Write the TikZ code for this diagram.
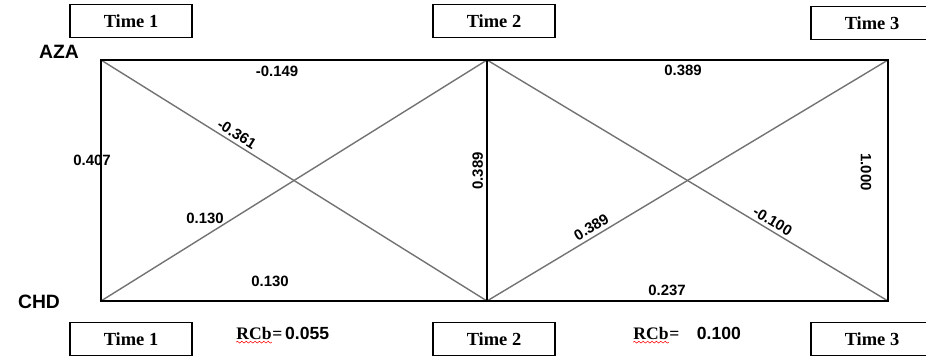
\documentclass[tikz,border=0pt]{standalone}
\usepackage{fontspec}
\setmainfont{Liberation Serif}
\newfontfamily\numfont{Liberation Sans}
\usetikzlibrary{positioning,decorations.pathmorphing}

\begin{document}
\begin{tikzpicture}[x=0.02cm,y=-0.02cm,
		timebox/.style={draw,line width=0.8pt,minimum width=2.44cm,minimum height=0.66cm,inner sep=0pt,font=\bfseries\fontsize{10.5}{12}\selectfont},
		val/.style={font=\numfont\bfseries\fontsize{8.5}{10}\selectfont,inner sep=1pt},
		var/.style={font=\numfont\bfseries\fontsize{11}{13}\selectfont,inner sep=1pt},
		cross/.style={draw=black!55,line width=0.8pt},
		side/.style={draw=black,line width=1pt}]
		\useasboundingbox (0,0) rectangle (926,358);
		% corners
		\coordinate (aza1) at (101,60);
		\coordinate (aza2) at (487,60);
		\coordinate (aza3) at (888,60);
		\coordinate (chd1) at (101,301);
		\coordinate (chd2) at (487,301);
		\coordinate (chd3) at (888,301);
		% cross paths
		\draw[cross] (aza1) -- (chd2);
		\draw[cross] (chd1) -- (aza2);
		\draw[cross] (aza2) -- (chd3);
		\draw[cross] (chd2) -- (aza3);
		\draw[side] (aza1) -- (aza3) -- (chd3) -- (chd1) -- cycle;
		\draw[side] (aza2) -- (chd2);
		% variables
		\node[var] (aza) at (59,52) {AZA};
		\node[var] (chd) at (39,302) {CHD};
		% time boxes
		\node[timebox] (t1top) at (131,21) {Time 1};
		\node[timebox] (t2top) at (494,21) {Time 2};
		\node[timebox] (t3top) at (872,23) {Time 3};
		\node[timebox] (t1bot) at (131,339) {Time 1};
		\node[timebox] (t2bot) at (494,339) {Time 2};
		\node[timebox] (t3bot) at (872,339) {Time 3};
		% coefficients
		\node[val] (s12a) at (277,71) {-0.149};
		\node[val] (s23a) at (683,70) {0.389};
		\node[val] (s12c) at (270,281) {0.130};
		\node[val] (s23c) at (667,290) {0.237};
		\node[val] (a1) at (92,160) {0.407};
		\node[val,rotate=90,anchor=south,inner sep=2pt] (a2) at (487,171) {0.389};
		\node[val,rotate=-90] (a3) at (866,172) {1.000};
		\node[val,rotate=-32,anchor=south,inner sep=2pt] (x1) at (232,142) {-0.361};
		\node[val] (x2) at (205,218) {0.130};
		\node[val,rotate=31,anchor=south,inner sep=2pt] (x3) at (596,235) {0.389};
		\node[val,rotate=-31,anchor=south,inner sep=2pt] (x4) at (768,229) {-0.100};
		% RCb
		\node[inner sep=0pt,font=\bfseries\fontsize{10}{12}\selectfont] (rcb1) at (254,333) {RCb};
		\node[inner sep=0pt,anchor=base west,font=\bfseries\fontsize{10}{12}\selectfont] (v1) at (rcb1.base east) {=\,{\numfont 0.055}};
		\node[inner sep=0pt,font=\bfseries\fontsize{10}{12}\selectfont] (rcb2) at (651,333) {RCb};
		\node[inner sep=0pt,anchor=base west,font=\bfseries\fontsize{10}{12}\selectfont] (v2) at (rcb2.base east) {=\quad{\numfont 0.100}};
		\draw[red,line width=0.3pt,decorate,decoration={snake,amplitude=0.5pt,segment length=2.5pt}] ([yshift=-1.5pt]rcb1.south west) -- ([yshift=-1.5pt]rcb1.south east);
		\draw[red,line width=0.3pt,decorate,decoration={snake,amplitude=0.5pt,segment length=2.5pt}] ([yshift=-1.5pt]rcb2.south west) -- ([yshift=-1.5pt]rcb2.south east);
	\end{tikzpicture}
\end{document}
